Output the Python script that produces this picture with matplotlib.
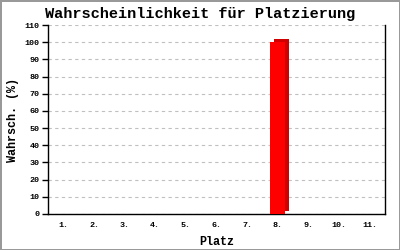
import matplotlib
matplotlib.use("Agg")
import matplotlib.pyplot as plt
import matplotlib.transforms as mtransforms
import numpy as np

# Chart data
places = [1, 2, 3, 4, 5, 6, 7, 8, 9, 10, 11]
place_labels = ["1.", "2.", "3.", "4.", "5.", "6.", "7.", "8.", "9.", "10.", "11."]
probability = [0, 0, 0, 0, 0, 0, 0, 100, 0, 0, 0]
y_ticks = list(range(0, 111, 10))

FONT = "Liberation Mono"

fig = plt.figure(figsize=(4, 2.5), dpi=100)
fig.patch.set_facecolor("white")
fig.patch.set_edgecolor("#999999")
fig.patch.set_linewidth(2)

ax = fig.add_axes([0.12, 0.144, 0.8425, 0.756])

x = np.array(places, dtype=float)
vals = np.array(probability, dtype=float)
mask = vals > 0

# 3D look: darker copy shifted right/up behind the front face
shadow = mtransforms.offset_copy(ax.transData, fig=fig, x=4, y=3, units="dots")
ax.bar(x[mask], vals[mask], width=0.5, color="#d00000",
       transform=shadow, zorder=2, linewidth=0)
ax.bar(x[mask], vals[mask], width=0.5, color="#ff0000",
       zorder=3, linewidth=0)

ax.set_xlim(0.5, 11.5)
ax.set_ylim(0, 110)
ax.set_yticks(y_ticks)
ax.set_yticklabels([str(t) for t in y_ticks], fontsize=6, fontfamily=FONT,
                   fontweight="bold")
ax.set_xticks(places)
ax.set_xticklabels(place_labels, fontsize=6, fontfamily=FONT, fontweight="bold")
ax.tick_params(axis="x", length=0, pad=6)
ax.tick_params(axis="y", length=4, width=1, pad=2)

ax.yaxis.grid(True, linestyle=(0, (3, 3)), color="#c0c0c0", linewidth=0.8)
ax.set_axisbelow(True)

ax.spines["top"].set_visible(False)
for s in ["left", "right", "bottom"]:
    ax.spines[s].set_linewidth(1)
    ax.spines[s].set_color("black")

ax.set_xlabel("Platz", fontsize=8.5, fontfamily=FONT, fontweight="bold", labelpad=5)
ax.set_ylabel("Wahrsch. (%)", fontsize=8.5, fontfamily=FONT, fontweight="bold", labelpad=4)

fig.text(0.5, 0.945, "Wahrscheinlichkeit für Platzierung", ha="center", va="center",
         fontsize=11, fontfamily=FONT, fontweight="bold")

fig.savefig("out.png", dpi=100)
